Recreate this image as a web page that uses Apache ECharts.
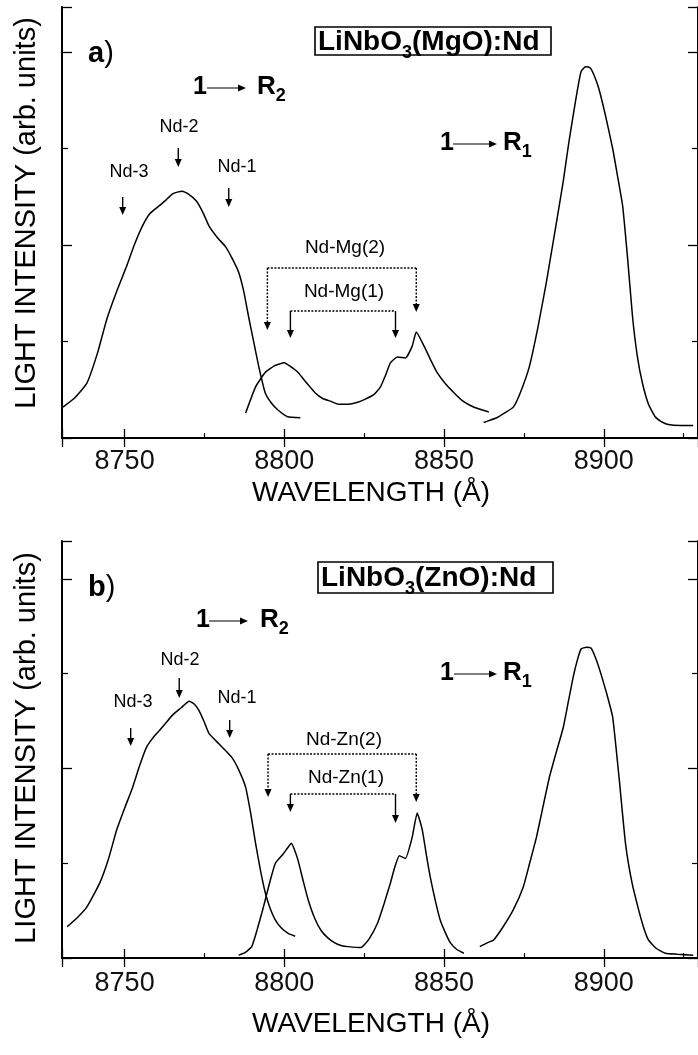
<!DOCTYPE html>
<html><head><meta charset="utf-8">
<script src="https://cdn.jsdelivr.net/npm/echarts@6/dist/echarts.min.js"></script>
<style>html,body{margin:0;padding:0;background:#fff}#c{width:698px;height:1055px}</style>
</head><body><div id="c"></div>
<script>
// ---------- DATA ----------
const xTickLabels = [8750, 8800, 8850, 8900];
const xRange = [8730.4, 8929.5];
const yMaxA = 4.47, yMaxB = 4.4;

// Panel a) LiNbO3(MgO):Nd
const aR2Wl  = [8730.7,8734.5,8738.2,8741.5,8744.4,8747.5,8750.6,8753,8755.6,8758,8760.9,8763,8764.9,8766.5,8768,8770,8772.4,8774.5,8776.4,8779,8781.7,8783.7,8785.7,8787.3,8788.8,8790.4,8792,8794,8796,8798,8801,8805];
const aR2Val = [0.32,0.42,0.57,0.88,1.23,1.52,1.78,2.0,2.20,2.33,2.41,2.47,2.53,2.55,2.56,2.53,2.46,2.34,2.20,2.08,1.98,1.86,1.72,1.52,1.26,1.0,0.74,0.47,0.36,0.29,0.22,0.21];
const aMgWl  = [8787.9,8791,8794,8797,8800,8802,8804.3,8807,8809.6,8812,8814.6,8817,8820,8823,8825.2,8828,8830.1,8831.8,8833.2,8835.4,8837.9,8840,8841.3,8843.8,8845.8,8847.8,8850.5,8853.1,8855.6,8858.1,8861,8864];
const aMgVal = [0.26,0.53,0.68,0.75,0.78,0.74,0.68,0.57,0.47,0.41,0.38,0.35,0.35,0.37,0.40,0.45,0.53,0.66,0.78,0.84,0.83,0.95,1.10,0.95,0.81,0.68,0.56,0.47,0.39,0.34,0.30,0.27];
const aR1Wl  = [8862.4,8864,8866.5,8869,8871.7,8874,8876.7,8879.4,8882,8884.6,8887.3,8889,8890.4,8891.7,8892.9,8894.3,8895.7,8897,8898.4,8900.5,8902.8,8904.4,8905.9,8907.5,8909,8910.5,8912.1,8914,8916.1,8918,8920.2,8924,8928];
const aR1Val = [0.16,0.18,0.21,0.26,0.32,0.48,0.74,1.15,1.61,2.12,2.66,3.05,3.34,3.60,3.80,3.85,3.84,3.76,3.63,3.35,3.00,2.70,2.41,1.85,1.26,0.85,0.57,0.35,0.22,0.17,0.14,0.13,0.13];

// Panel b) LiNbO3(ZnO):Nd
const bR2Wl  = [8732,8735,8738.2,8742.2,8745,8747.5,8750,8752.5,8754.6,8756.8,8758.8,8760.9,8762.9,8764.9,8767.7,8770.2,8771.8,8773.3,8774.8,8776.4,8779.5,8783.5,8785.8,8787.9,8789.5,8791,8792.5,8794.1,8795.6,8797.2,8799,8801.2,8803.4];
const bR2Val = [0.33,0.42,0.54,0.79,1.05,1.35,1.58,1.80,2.02,2.22,2.32,2.40,2.48,2.56,2.64,2.71,2.68,2.61,2.50,2.37,2.26,2.12,1.98,1.80,1.52,1.21,0.93,0.68,0.52,0.40,0.32,0.26,0.23];
const bZnWl  = [8785.7,8787.8,8789.8,8791.5,8793,8794,8795.6,8797.2,8799.7,8801,8802.2,8803.2,8804.3,8806,8807.5,8809.5,8811.5,8813.7,8815.8,8818,8820,8824,8826.5,8829.2,8831.2,8833.2,8834.5,8836,8837.9,8840,8841.6,8843.2,8844.5,8845.7,8847.3,8848.8,8850.5,8852,8854,8856.2];
const bZnVal = [0.03,0.06,0.12,0.30,0.48,0.61,0.82,1.00,1.10,1.16,1.21,1.14,1.03,0.80,0.61,0.42,0.29,0.21,0.16,0.13,0.12,0.11,0.20,0.37,0.57,0.79,0.95,1.08,1.05,1.27,1.53,1.35,1.08,0.85,0.60,0.40,0.26,0.16,0.09,0.05];
const bR1Wl  = [8861.2,8863.5,8865.5,8868.5,8871.7,8874.8,8876.8,8878.9,8881,8883,8885.2,8887.3,8889,8890.4,8891.7,8892.9,8894.5,8896,8897.5,8899.1,8901,8902.8,8904.8,8906.8,8908.8,8910.9,8912.5,8914,8916.5,8919.3,8923,8928];
const bR1Val = [0.12,0.16,0.19,0.33,0.51,0.75,1.00,1.27,1.60,1.91,2.18,2.43,2.72,2.96,3.14,3.26,3.28,3.27,3.16,3.00,2.78,2.54,1.90,1.21,0.80,0.51,0.32,0.19,0.10,0.05,0.04,0.03];

// annotation wavelengths (Nd-3, Nd-2, Nd-1) and satellite arrows
const ndArrowWlA = [8749.4, 8766.8, 8782.6];
const ndArrowWlB = [8751.9, 8767.1, 8782.9];
const satWlA = [8794.7, 8801.9, 8834.8, 8841.3];
const satWlB = [8794.9, 8801.9, 8834.8, 8841.3];

// ---------- CHART ----------
const FF = '"Liberation Sans", Arial, Helvetica, sans-serif';
const zip = (a, b) => a.map((x, i) => [x, b[i]]);
const chart = echarts.init(document.getElementById('c'), null, {renderer: 'canvas'});

const grids = [
  {left: 62, top: 7, width: 641, height: 431},
  {left: 62, top: 541, width: 641, height: 417}
];
const axisLine = {show: true, lineStyle: {color: '#000', width: 2}};
function xAx(g, pos, labels, margin) {
  return {
    type: 'value', gridIndex: g, position: pos, min: xRange[0], max: xRange[1],
    splitNumber: 4, minInterval: 50, maxInterval: 50,
    axisLine: axisLine,
    axisTick: {show: true, inside: true, length: 9, lineStyle: {color: '#000', width: 1.3}},
    minorTick: {show: pos === 'bottom', splitNumber: 2, length: 5, lineStyle: {color: '#000', width: 1.2}},
    splitLine: {show: false},
    axisLabel: {show: labels, showMinLabel: false, showMaxLabel: false, margin: margin, fontSize: 27, color: '#111', fontFamily: FF,
      formatter: v => (xTickLabels.indexOf(Math.round(v)) >= 0 ? String(Math.round(v)) : '')}
  };
}
function yAx(g, pos, max) {
  return {
    type: 'value', gridIndex: g, position: pos, min: 0, max: max, interval: 2,
    axisLine: axisLine,
    axisTick: {show: true, inside: true, length: 10, lineStyle: {color: '#000', width: 1.3}},
    minorTick: {show: true, splitNumber: 2, length: 6, lineStyle: {color: '#000', width: 1.2}},
    splitLine: {show: false}, axisLabel: {show: false}
  };
}
const lineSeries = (name, xi, yi, wl, val) => ({
  name, type: 'line', xAxisIndex: xi, yAxisIndex: yi, data: zip(wl, val),
  showSymbol: false, smooth: 0.15, lineStyle: {color: '#000', width: 1.5}, silent: true, animation: false
});

chart.setOption({
  animation: false,
  backgroundColor: '#fff',
  grid: grids,
  xAxis: [xAx(0, 'bottom', true, 10), xAx(0, 'top', false, 8), xAx(1, 'bottom', true, 12), xAx(1, 'top', false, 8)],
  yAxis: [yAx(0, 'left', yMaxA), yAx(0, 'right', yMaxA), yAx(1, 'left', yMaxB), yAx(1, 'right', yMaxB)],
  series: [
    lineSeries('a R2', 0, 0, aR2Wl, aR2Val),
    lineSeries('a Nd-Mg', 0, 0, aMgWl, aMgVal),
    lineSeries('a R1', 0, 0, aR1Wl, aR1Val),
    lineSeries('b R2', 2, 2, bR2Wl, bR2Val),
    lineSeries('b Nd-Zn', 2, 2, bZnWl, bZnVal),
    lineSeries('b R1', 2, 2, bR1Wl, bR1Val)
  ]
});

// ---------- ANNOTATIONS ----------
const mctx = document.createElement('canvas').getContext('2d');
function tw(t, size, bold) { mctx.font = (bold ? 'bold ' : '') + size + 'px ' + FF; return mctx.measureText(t).width; }
function txt(t, x, y, size, bold, align, extra) {
  return Object.assign({type: 'text', x: x, y: y, z: 100,
    style: {text: t, fontSize: size, fontWeight: bold ? 'bold' : 'normal', fontFamily: FF, fill: '#000',
      align: align || 'left', verticalAlign: 'middle'}}, extra || {});
}
function run(parts, x, y) {
  const out = []; let cx = x;
  parts.forEach(p => { out.push(txt(p.t, cx, y + (p.dy || 0), p.size, p.bold)); cx += tw(p.t, p.size, p.bold); });
  return out;
}
function head(x, y, dir) { // tip at (x,y)
  const L = 8, W = 3.5;
  const pts = dir === 'down' ? [[x - W, y - L], [x + W, y - L], [x, y]] : [[x - L, y - W], [x - L, y + W], [x, y]];
  return {type: 'polygon', z: 100, shape: {points: pts}, style: {fill: '#000'}};
}
function seg(x1, y1, x2, y2, dashed, w) {
  return {type: 'line', z: 100, shape: {x1, y1, x2, y2},
    style: {stroke: '#000', lineWidth: w || 1.4, lineDash: dashed ? [2, 1.5] : null}};
}
function downArrow(x, y1, y2, dashed) { return [seg(x, y1, x, y2 - 6, dashed), head(x, y2, 'down')]; }
function transition(xOne, y, xArr1, xArr2, xR, sub) {
  return [].concat(
    run([{t: '1', size: 25, bold: true}], xOne, y),
    [seg(xArr1, y + 1, xArr2 - 5, y + 1, false, 1.2), head(xArr2, y + 1, 'right')],
    run([{t: 'R', size: 26, bold: true}, {t: sub, size: 18, bold: true, dy: 9}], xR, y)
  );
}
function boxLabel(x, y, w, h, host) {
  const parts = [{t: 'LiNbO', size: 28, bold: true}, {t: '3', size: 18, bold: true, dy: 11}, {t: '(' + host + '):Nd', size: 28, bold: true}];
  return [{type: 'rect', z: 99, shape: {x, y, width: w, height: h}, style: {fill: '#fff', stroke: '#000', lineWidth: 1.6}}]
    .concat(run(parts, x + 3, y + h / 2 + 1));
}
function px(g, wl) { return chart.convertToPixel({gridIndex: g}, [wl, 0])[0]; }
function bracket(x1, x2, yh, y1, y2, dashedV) {
  return [seg(x1, yh, x2, yh, true, 1.5)].concat(downArrow(x1, yh, y1, dashedV), downArrow(x2, yh, y2, dashedV));
}

let g = [];
// Panel a
g = g.concat(run([{t: 'a', size: 29, bold: true}, {t: ')', size: 29, bold: false}], 88, 54));
g = g.concat(boxLabel(315, 27, 236, 28, 'MgO'));
g = g.concat(transition(193, 87, 207, 246, 257, '2'));
g = g.concat(transition(440, 143, 453, 497, 503, '1'));
const ndA = ndArrowWlA.map(w => px(0, w));
g.push(txt('Nd-3', 129, 172, 18, false, 'center'), txt('Nd-2', 179, 127, 18, false, 'center'), txt('Nd-1', 237, 167, 18, false, 'center'));
g = g.concat(downArrow(ndA[0], 197, 215), downArrow(ndA[1], 148, 167), downArrow(ndA[2], 188, 207));
const sA = satWlA.map(w => px(0, w));
g.push(txt('Nd-Mg(2)', 345, 248, 19, false, 'center'), txt('Nd-Mg(1)', 344, 292, 19, false, 'center'));
g = g.concat(bracket(sA[0], sA[3], 268, 330, 312, true), bracket(sA[1], sA[2], 311, 338, 338, false));
// Panel b
g = g.concat(run([{t: 'b', size: 29, bold: true}, {t: ')', size: 29, bold: false}], 88, 588));
g = g.concat(boxLabel(318, 562, 235, 31, 'ZnO'));
g = g.concat(transition(196, 620, 209, 248, 260, '2'));
g = g.concat(transition(440, 673, 454, 497, 503, '1'));
const ndB = ndArrowWlB.map(w => px(1, w));
g.push(txt('Nd-3', 133, 702, 18, false, 'center'), txt('Nd-2', 180, 660, 18, false, 'center'), txt('Nd-1', 237, 698, 18, false, 'center'));
g = g.concat(downArrow(ndB[0], 728, 746), downArrow(ndB[1], 678, 698), downArrow(ndB[2], 720, 738));
const sB = satWlB.map(w => px(1, w));
g.push(txt('Nd-Zn(2)', 344, 740, 19, false, 'center'), txt('Nd-Zn(1)', 346, 778, 19, false, 'center'));
g = g.concat(bracket(sB[0], sB[3], 754, 797, 802, true), bracket(sB[1], sB[2], 794, 812, 823, false));
// Axis titles
g.push(txt('LIGHT INTENSITY (arb. units)', 27, 213, 29, false, 'center', {rotation: Math.PI / 2}));
g.push(txt('LIGHT INTENSITY (arb. units)', 27, 748, 29, false, 'center', {rotation: Math.PI / 2}));
g.push(txt('WAVELENGTH (Å)', 371, 493, 28, false, 'center'));
g.push(txt('WAVELENGTH (Å)', 371, 1024, 28, false, 'center'));

chart.setOption({graphic: {elements: g}});
</script></body></html>
